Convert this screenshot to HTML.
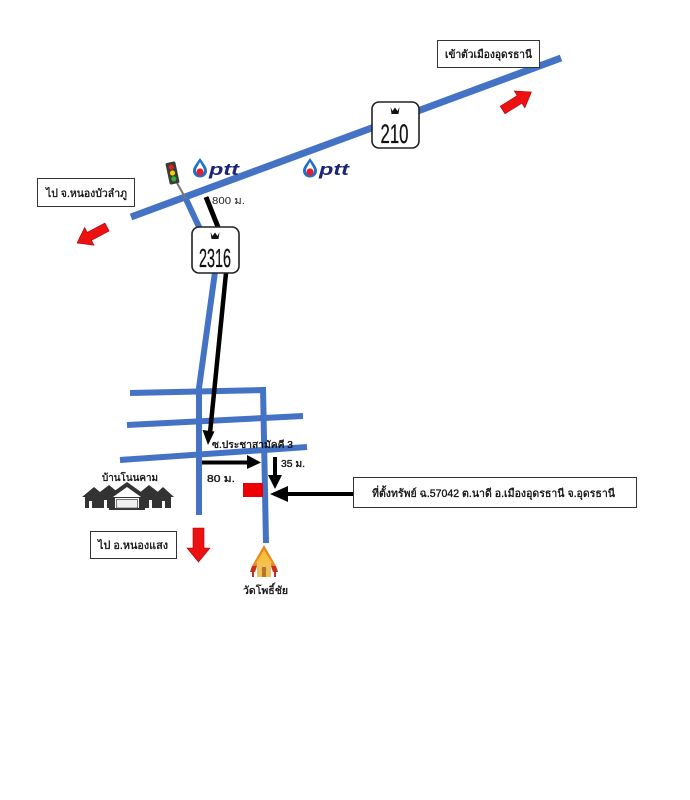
<!DOCTYPE html>
<html>
<head>
<meta charset="utf-8">
<style>
  html,body{margin:0;padding:0;background:#fff;}
  svg{display:block;}
  text{font-family:"Liberation Sans","DejaVu Sans",sans-serif;}
  .th{stroke:#111;stroke-width:0.35;}
</style>
</head>
<body>
<svg width="690" height="800" viewBox="0 0 690 800" xmlns="http://www.w3.org/2000/svg">
  <rect x="0" y="0" width="690" height="800" fill="#fff"/>

  <!-- Blue roads -->
  <g stroke="#4472C4" stroke-width="7" fill="none" stroke-linecap="butt">
    <line x1="131" y1="217" x2="561" y2="58"/>
  </g>
  <g stroke="#4472C4" stroke-width="6" fill="none" stroke-linejoin="round">
    <line x1="185" y1="197" x2="200" y2="229"/>
    <polyline points="215,272 199,388 199,515"/>
    <line x1="130" y1="393" x2="266" y2="390"/>
    <line x1="127" y1="425" x2="303" y2="416"/>
    <line x1="120" y1="460" x2="307" y2="447"/>
    <line x1="263" y1="387" x2="266" y2="543"/>
  </g>

  <!-- Traffic light -->
  <line x1="177" y1="183" x2="186" y2="199" stroke="#777" stroke-width="2"/>
  <g transform="translate(172.5,173) rotate(-12)">
    <rect x="-5" y="-11" width="10" height="22" rx="1.5" fill="#3a3a3a"/>
    <circle cx="0" cy="-6" r="2.6" fill="#e02020"/>
    <circle cx="0" cy="0" r="2.6" fill="#f2d000"/>
    <circle cx="0" cy="6" r="2.6" fill="#2fb52f"/>
  </g>

  <!-- Black route line -->
  <line x1="206" y1="197" x2="218" y2="227" stroke="#000" stroke-width="5"/>
  <line x1="226" y1="273" x2="210" y2="433" stroke="#000" stroke-width="4.5"/>
  <polygon points="202.5,430 214.5,431.5 208,445" fill="#000"/>

  <!-- PTT logos -->
  <g transform="translate(193,158)">
    <path d="M7,0 C3,6 0,9 0,13 A7,6.5 0 0 0 14,13 C14,9 11,6 7,0 Z" fill="#1f6fd0"/>
    <path d="M7,4 C5,8 3,10 3,13 A4,4 0 0 0 11,13 C11,10 9,8 7,4 Z" fill="#fff"/>
    <circle cx="7" cy="14" r="3.6" fill="#e3202a"/>
    <text x="16" y="17" font-size="17" font-weight="bold" font-style="italic" fill="#1c2474" textLength="30" lengthAdjust="spacingAndGlyphs">ptt</text>
  </g>
  <g transform="translate(303,158)">
    <path d="M7,0 C3,6 0,9 0,13 A7,6.5 0 0 0 14,13 C14,9 11,6 7,0 Z" fill="#1f6fd0"/>
    <path d="M7,4 C5,8 3,10 3,13 A4,4 0 0 0 11,13 C11,10 9,8 7,4 Z" fill="#fff"/>
    <circle cx="7" cy="14" r="3.6" fill="#e3202a"/>
    <text x="16" y="17" font-size="17" font-weight="bold" font-style="italic" fill="#1c2474" textLength="30" lengthAdjust="spacingAndGlyphs">ptt</text>
  </g>

  <!-- 800 m label -->
  <text x="212" y="204" font-size="10" fill="#222" textLength="33" lengthAdjust="spacingAndGlyphs">800 ม.</text>

  <!-- Sign 210 -->
  <rect x="372" y="102" width="47" height="46" rx="7" fill="#fff" stroke="#222" stroke-width="1.6"/>
  <path d="M390.5,107 L392.5,111 L395,107.5 L397.5,111 L399.5,107 L398.5,114 L391.5,114 Z" fill="#111"/>
  <text x="380.5" y="143" font-size="27" fill="#111" stroke="#111" stroke-width="0.3" textLength="28" lengthAdjust="spacingAndGlyphs">210</text>

  <!-- Sign 2316 -->
  <rect x="192" y="227" width="47" height="46" rx="7" fill="#fff" stroke="#222" stroke-width="1.6"/>
  <path d="M210.5,232 L212.5,236 L215,232.5 L217.5,236 L219.5,232 L218.5,239 L211.5,239 Z" fill="#111"/>
  <text x="199" y="267" font-size="26" fill="#111" stroke="#111" stroke-width="0.3" textLength="32" lengthAdjust="spacingAndGlyphs">2316</text>

  <!-- Top-right box -->
  <rect x="437.5" y="40.5" width="102" height="27" fill="#fff" stroke="#333" stroke-width="1"/>
  <text class="th" x="445" y="58" font-size="11" fill="#111" textLength="87" lengthAdjust="spacingAndGlyphs">เข้าตัวเมืองอุดรธานี</text>

  <!-- Left box -->
  <rect x="37.5" y="178.5" width="97" height="28" fill="#fff" stroke="#333" stroke-width="1"/>
  <text class="th" x="46" y="197" font-size="11" fill="#111" textLength="81" lengthAdjust="spacingAndGlyphs">ไป จ.หนองบัวลำภู</text>

  <!-- Red arrows -->
  <polygon points="-17,-4.5 3,-4.5 3,-10 17,0 3,10 3,4.5 -17,4.5" fill="#ee1111" stroke="#a00" stroke-width="0.6" transform="translate(517,101) rotate(-32)"/>
  <polygon points="-17,-4.5 3,-4.5 3,-10 17,0 3,10 3,4.5 -17,4.5" fill="#ee1111" stroke="#a00" stroke-width="0.6" transform="translate(92,235) rotate(152)"/>
  <polygon points="193,528 204,528 204,548 210,548 198.5,562 187,548 193,548" fill="#ee1111" stroke="#a00" stroke-width="0.6"/>

  <!-- Soi label -->
  <text class="th" x="212" y="448" font-size="10" fill="#111" textLength="81" lengthAdjust="spacingAndGlyphs">ซ.ประชาสามัคคี 3</text>

  <!-- 80 m arrow -->
  <line x1="202" y1="462.5" x2="249" y2="462.5" stroke="#000" stroke-width="4"/>
  <polygon points="247,455 247,469 261,462.5" fill="#000"/>
  <text class="th" x="207" y="482" font-size="10" fill="#222" textLength="28" lengthAdjust="spacingAndGlyphs">80 ม.</text>

  <!-- 35 m arrow -->
  <line x1="275" y1="457" x2="275" y2="477" stroke="#000" stroke-width="4"/>
  <polygon points="268,475 282,475 275,489" fill="#000"/>
  <text class="th" x="281" y="467" font-size="10" fill="#222" textLength="24" lengthAdjust="spacingAndGlyphs">35 ม.</text>

  <!-- Red property marker -->
  <rect x="243" y="483" width="20" height="14" fill="#ee0000"/>

  <!-- Arrow from box -->
  <line x1="353" y1="494" x2="286" y2="494" stroke="#000" stroke-width="4"/>
  <polygon points="288,486 288,502 270,494" fill="#000"/>

  <!-- Property box -->
  <rect x="353.5" y="477.5" width="283" height="30" fill="#fff" stroke="#333" stroke-width="1"/>
  <text class="th" x="372" y="497" font-size="11" fill="#111" textLength="243" lengthAdjust="spacingAndGlyphs">ที่ตั้งทรัพย์ ฉ.57042 ต.นาดี อ.เมืองอุดรธานี จ.อุดรธานี</text>

  <!-- Village -->
  <text class="th" x="102" y="481" font-size="10" fill="#111" textLength="56" lengthAdjust="spacingAndGlyphs">บ้านโนนคาม</text>
  <g fill="#333">
    <polygon points="82,497 94,487 106,497 103,497 103,508 85,508 85,497"/>
    <polygon points="96,495 109,485 120,494 118,508 98,508"/>
    <polygon points="138,494 149,485 162,495 160,508 140,508"/>
    <polygon points="152,497 163,487 174,497 171,497 171,508 155,508"/>
    <polygon points="106,497 127,482 148,497 145,497 145,510 109,510 109,497"/>
  </g>
  <g fill="#fff">
    <rect x="89" y="501" width="3" height="7"/>
    <rect x="104" y="500" width="3" height="8"/>
    <rect x="149" y="500" width="3" height="8"/>
    <rect x="162" y="501" width="3" height="7"/>
    <polygon points="113,497 127,487 141,497"/>
    <rect x="115" y="498" width="24" height="10"/>
  </g>
  <rect x="116.5" y="499.5" width="21" height="8.5" fill="#f0f0f0" stroke="#555" stroke-width="0.8"/>

  <!-- Bottom-left box -->
  <rect x="90.5" y="531.5" width="86" height="27" fill="#fff" stroke="#333" stroke-width="1"/>
  <text class="th" x="98" y="549" font-size="11" fill="#111" textLength="70" lengthAdjust="spacingAndGlyphs">ไป อ.หนองแสง</text>

  <!-- Temple -->
  <g>
    <polygon points="264,545 252,566 276,566" fill="#e88a1a"/>
    <polygon points="252,566 250,572 255,572 257,566" fill="#c8301e"/>
    <polygon points="276,566 278,572 273,572 271,566" fill="#c8301e"/>
    <polygon points="264,550 256,563 272,563" fill="#f5c040"/>
    <rect x="257" y="563" width="14" height="14" fill="#f0c060"/>
    <rect x="262" y="567" width="4" height="10" fill="#b8761e"/>
    <line x1="253" y1="566" x2="253" y2="577" stroke="#c8301e" stroke-width="2"/>
    <line x1="275" y1="566" x2="275" y2="577" stroke="#c8301e" stroke-width="2"/>
  </g>
  <text class="th" x="243" y="594" font-size="10.5" fill="#111" textLength="45" lengthAdjust="spacingAndGlyphs">วัดโพธิ์ชัย</text>
</svg>
</body>
</html>
